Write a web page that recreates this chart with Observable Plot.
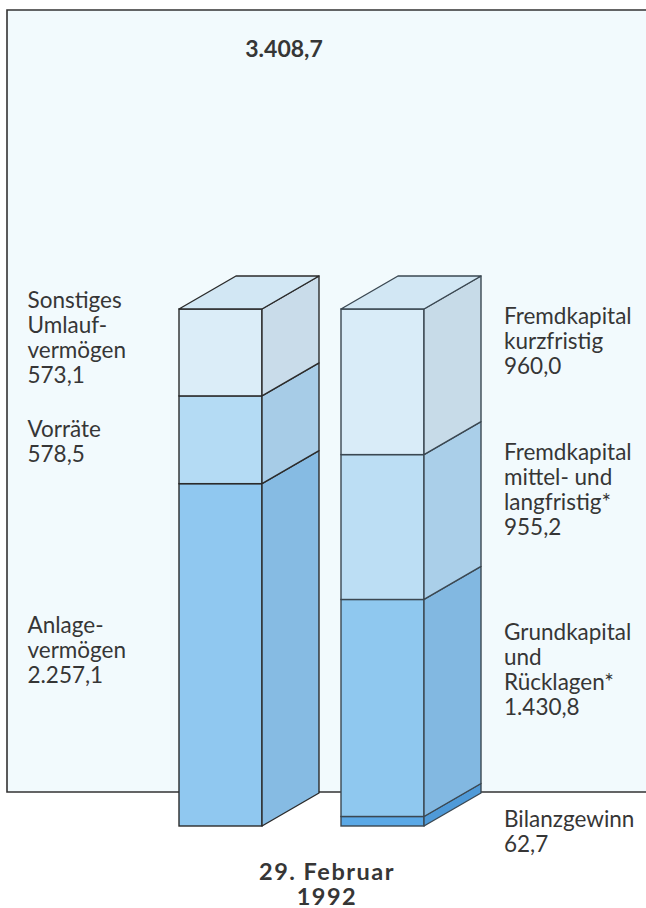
<!DOCTYPE html>
<html><head><meta charset="utf-8">
<script src="https://cdn.jsdelivr.net/npm/d3@7"></script>
<script src="https://cdn.jsdelivr.net/npm/@observablehq/plot@0.6"></script>
<style>
html,body{margin:0;padding:0;background:#fff;overflow:hidden;width:646px;height:908px}
#chart{width:646px;height:908px;overflow:hidden}
#chart svg{display:block;overflow:hidden;max-width:none}
</style></head><body><div id="chart"></div>
<script>
// ---- data ----
const sides = ["Aktiva", "Passiva"];
const aktivaNames = ["Anlage-\nvermögen", "Vorräte", "Sonstiges\nUmlauf-\nvermögen"];
const aktivaValues = [2257.1, 578.5, 573.1];
const passivaNames = ["Bilanzgewinn", "Grundkapital\nund\nRücklagen*", "Fremdkapital\nmittel- und\nlangfristig*", "Fremdkapital\nkurzfristig"];
const passivaValues = [62.7, 1430.8, 955.2, 960.0];
const dateLabel = "29. Februar\n1992";

// ---- styles ----
const palette = {
  Aktiva: {front: ["#90c8f0", "#b4dbf4", "#dbedf8"], side: ["#86bbe3", "#a7cce7", "#c9dcea"], stroke: "#2b2b2b"},
  Passiva: {front: ["#5ba9e7", "#8fc8ef", "#bcdef4", "#d9ecf8"], side: ["#4f9ad8", "#82b8e1", "#aacfe9", "#c7dbe8"], stroke: "#3b4852"}
};
const topFill = "#d2e7f4";
const panelFill = "#f2fafd";
const textColor = "#363636";
const depth = {dx: 57, dy: -33};
// offset (px) of each label's last baseline below the top of its segment
const labelOffset = {Aktiva: [199, 66, 73], Passiva: [35.5, 115.5, 80, 64]};
const font = "Lato, 'Open Sans', sans-serif";

const de = d3.formatLocale({decimal: ",", thousands: ".", grouping: [3], currency: ["", " €"]});
const fmt = de.format(",.1f");

function stack(side, names, values) {
  let acc = 0;
  return values.map((v, i) => {
    const s = {side, name: names[i], value: v, i, y1: acc, y2: acc + v};
    acc += v;
    return s;
  });
}
const segments = [...stack("Aktiva", aktivaNames, aktivaValues), ...stack("Passiva", passivaNames, passivaValues)];
const totals = {Aktiva: d3.sum(aktivaValues), Passiva: d3.sum(passivaValues)};
const total = totals.Aktiva;

// background panel: filled, bordered on top, left and bottom (it runs off the page on the right)
function panel(index, scales, values, dimensions) {
  const {width, height, marginLeft, marginTop, marginBottom} = dimensions;
  const yb = height - marginBottom;
  const g = d3.create("svg:g");
  g.append("rect")
    .attr("x", marginLeft).attr("y", marginTop)
    .attr("width", width + 20 - marginLeft).attr("height", yb - marginTop)
    .attr("fill", panelFill);
  g.append("path")
    .attr("d", `M${width + 20},${marginTop}H${marginLeft}V${yb}H${width + 20}`)
    .attr("fill", "none")
    .attr("stroke", "#333")
    .attr("stroke-width", 1.6);
  return g.node();
}

// side and top faces of the prisms, drawn through Plot's scales
function prismFaces(index, scales) {
  const {x, y} = scales;
  const bw = typeof x.bandwidth === "function" ? x.bandwidth() : x.bandwidth;
  const {dx, dy} = depth;
  const g = d3.create("svg:g");
  for (const s of segments) {
    const xr = x(s.side) + bw;
    const ya = y(s.y1), yb = y(s.y2);
    g.append("path")
      .attr("d", `M${xr},${ya}L${xr + dx},${ya + dy}L${xr + dx},${yb + dy}L${xr},${yb}Z`)
      .attr("fill", palette[s.side].side[s.i])
      .attr("stroke", palette[s.side].stroke)
      .attr("stroke-width", 1.4)
      .attr("stroke-linejoin", "round");
  }
  for (const side of sides) {
    const xl = x(side), xr = xl + bw, yt = y(totals[side]);
    g.append("path")
      .attr("d", `M${xl},${yt}L${xl + dx},${yt + dy}L${xr + dx},${yt + dy}L${xr},${yt}Z`)
      .attr("fill", topFill)
      .attr("stroke", palette[side].stroke)
      .attr("stroke-width", 1.4)
      .attr("stroke-linejoin", "round");
  }
  return g.node();
}

const labelMarks = segments.map(s => Plot.text([s], {
  ...(s.side === "Aktiva" ? {frameAnchor: "left", dx: 20} : {x: "side", dx: 121}),
  y: "y2",
  dy: labelOffset[s.side][s.i],
  text: d => d.name + "\n" + fmt(d.value),
  textAnchor: "start",
  lineAnchor: "bottom",
  lineHeight: 25 / 22.5,
  fontSize: 22.5,
  fill: textColor
}));

const chart = Plot.plot({
  width: 646,
  height: 908,
  marginLeft: 7,
  marginTop: 10,
  marginRight: 0,
  marginBottom: 116,
  style: {fontFamily: font, background: "#ffffff", color: textColor},
  x: {type: "band", domain: sides, range: [178, 424], paddingInner: 0.49, paddingOuter: 0, align: 0.5, axis: null},
  y: {domain: [0, total], range: [826, 309], axis: null},
  marks: [
    panel,
    Plot.barY(segments, {
      x: "side", y1: "y1", y2: "y2",
      fill: d => palette[d.side].front[d.i],
      stroke: d => palette[d.side].stroke,
      strokeWidth: 1.4, inset: 0
    }),
    prismFaces,
    ...labelMarks,
    Plot.text([total], {
      frameAnchor: "top", text: d => fmt(d), lineAnchor: "bottom",
      dy: 46, dx: -43, fontSize: 23, fontWeight: "bold", fill: textColor
    }),
    Plot.text([dateLabel], {
      frameAnchor: "bottom", text: d => d, lineAnchor: "bottom", lineHeight: 25 / 23.5,
      dy: 112, dx: 0, fontSize: 23.5, fontWeight: "bold", fill: textColor
    })
  ]
});
// wide letter spacing for the bold date line, like the original typeface
d3.select(chart).selectAll("text").filter(function() {
  return this.textContent.replace(/\s+/g, "") === dateLabel.replace(/\s+/g, "");
}).attr("letter-spacing", 1.5);
document.getElementById("chart").appendChild(chart);
</script></body></html>
